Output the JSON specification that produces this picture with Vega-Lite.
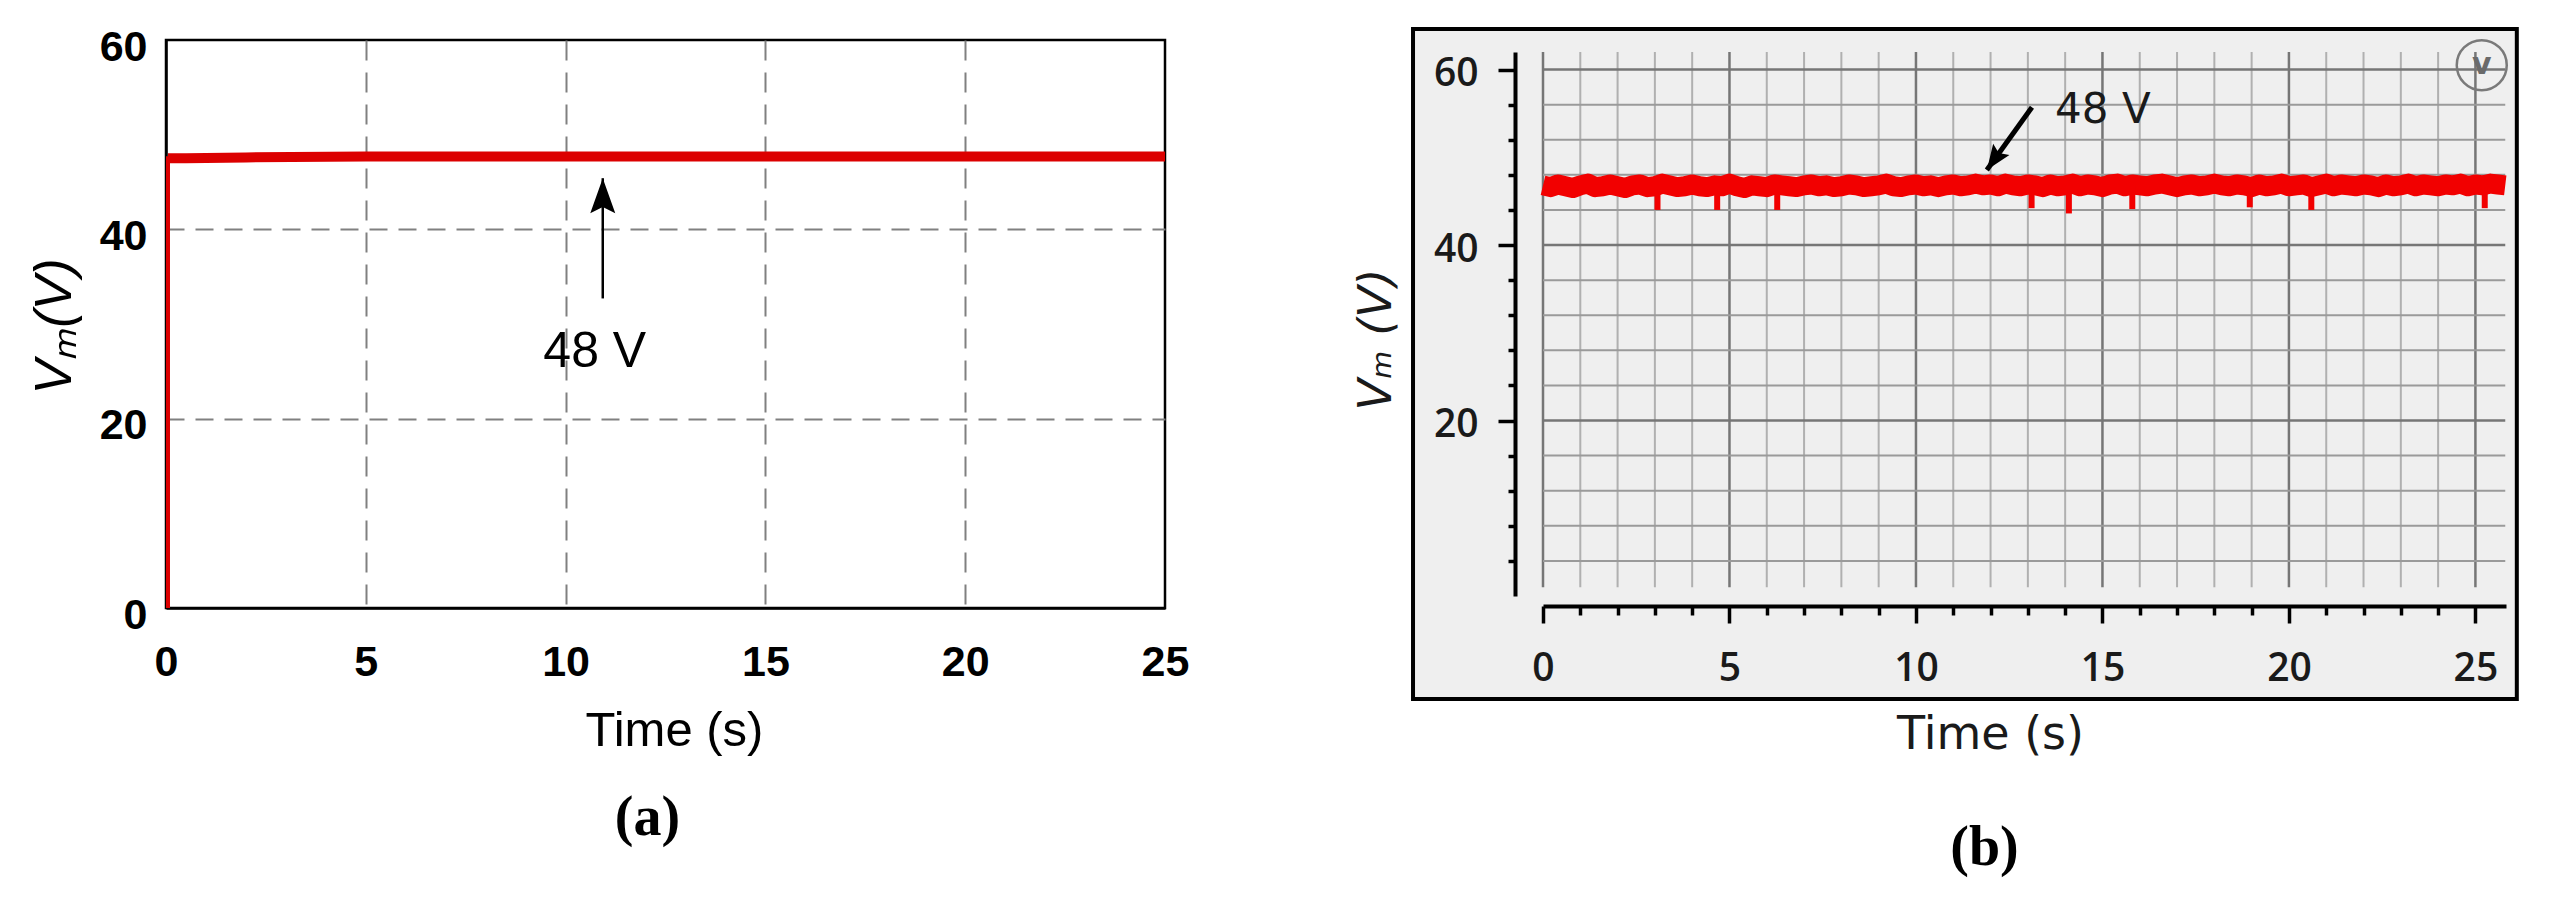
{
"$schema":"https://vega.github.io/schema/vega-lite/v6.json",
"autosize":{"type":"none"},
"padding":{"left":166,"top":40,"right":2385,"bottom":857},
"background":"white",
"spacing":378,
"bounds":"flush",
"center":true,
"config":{"view":{"stroke":null}},
"datasets":{
"sim":[{"t":0.05,"v":0},{"t":0.05,"v":47.5},{"t":0.5,"v":47.5},{"t":2,"v":47.6},{"t":5,"v":47.7},{"t":10,"v":47.7},{"t":15,"v":47.7},{"t":20,"v":47.7},{"t":25,"v":47.7}],
"arrow_a":[{"t0":10.93,"v0":32.7,"t1":10.93,"v1":45.4}],
"note_a":[{"t":10.73,"v":25.5,"label":"48 V"}],
"meas":[{"t":0,"v":46.8},{"t":0.2,"v":46.6},{"t":0.4,"v":46.9},{"t":0.6,"v":46.7},{"t":0.8,"v":46.5},{"t":1,"v":46.8},{"t":1.2,"v":47.0},{"t":1.4,"v":46.6},{"t":1.6,"v":46.7},{"t":1.8,"v":46.9},
{"t":2,"v":46.7},{"t":2.2,"v":46.5},{"t":2.4,"v":46.8},{"t":2.6,"v":46.9},{"t":2.8,"v":46.6},{"t":3,"v":46.7},{"t":3.2,"v":47.0},{"t":3.4,"v":46.8},{"t":3.6,"v":46.6},{"t":3.8,"v":46.7},
{"t":4,"v":46.9},{"t":4.2,"v":46.7},{"t":4.4,"v":46.6},{"t":4.6,"v":46.8},{"t":4.8,"v":46.7},{"t":5,"v":47.0},{"t":5.2,"v":46.7},{"t":5.4,"v":46.5},{"t":5.6,"v":46.8},{"t":5.8,"v":46.7},
{"t":6,"v":46.6},{"t":6.2,"v":46.9},{"t":6.4,"v":46.8},{"t":6.6,"v":46.7},{"t":6.8,"v":46.6},{"t":7,"v":46.8},{"t":7.2,"v":46.9},{"t":7.4,"v":46.7},{"t":7.6,"v":46.8},{"t":7.8,"v":46.6},
{"t":8,"v":46.7},{"t":8.2,"v":46.9},{"t":8.4,"v":46.8},{"t":8.6,"v":46.6},{"t":8.8,"v":46.7},{"t":9,"v":46.8},{"t":9.2,"v":47.0},{"t":9.4,"v":46.7},{"t":9.6,"v":46.6},{"t":9.8,"v":46.8},
{"t":10,"v":46.9},{"t":10.2,"v":46.7},{"t":10.4,"v":46.8},{"t":10.6,"v":46.6},{"t":10.8,"v":46.8},{"t":11,"v":46.9},{"t":11.2,"v":46.7},{"t":11.4,"v":46.8},{"t":11.6,"v":47.0},{"t":11.8,"v":46.8},
{"t":12,"v":46.9},{"t":12.2,"v":46.7},{"t":12.4,"v":47.0},{"t":12.6,"v":46.8},{"t":12.8,"v":46.7},{"t":13,"v":46.9},{"t":13.2,"v":46.8},{"t":13.4,"v":46.6},{"t":13.6,"v":46.9},{"t":13.8,"v":46.7},
{"t":14,"v":46.8},{"t":14.2,"v":47.0},{"t":14.4,"v":46.7},{"t":14.6,"v":46.9},{"t":14.8,"v":46.8},{"t":15,"v":46.6},{"t":15.2,"v":46.9},{"t":15.4,"v":47.0},{"t":15.6,"v":46.7},{"t":15.8,"v":46.9},
{"t":16,"v":46.8},{"t":16.2,"v":46.7},{"t":16.4,"v":46.9},{"t":16.6,"v":47.0},{"t":16.8,"v":46.8},{"t":17,"v":46.6},{"t":17.2,"v":46.8},{"t":17.4,"v":46.9},{"t":17.6,"v":46.7},{"t":17.8,"v":46.8},
{"t":18,"v":47.0},{"t":18.2,"v":46.8},{"t":18.4,"v":46.7},{"t":18.6,"v":46.9},{"t":18.8,"v":46.8},{"t":19,"v":46.6},{"t":19.2,"v":46.9},{"t":19.4,"v":46.7},{"t":19.6,"v":46.8},{"t":19.8,"v":47.0},
{"t":20,"v":46.7},{"t":20.2,"v":46.8},{"t":20.4,"v":46.9},{"t":20.6,"v":46.6},{"t":20.8,"v":46.8},{"t":21,"v":47.0},{"t":21.2,"v":46.7},{"t":21.4,"v":46.9},{"t":21.6,"v":46.8},{"t":21.8,"v":46.7},
{"t":22,"v":46.9},{"t":22.2,"v":46.8},{"t":22.4,"v":46.6},{"t":22.6,"v":46.9},{"t":22.8,"v":46.7},{"t":23,"v":46.8},{"t":23.2,"v":47.0},{"t":23.4,"v":46.7},{"t":23.6,"v":46.9},{"t":23.8,"v":46.8},
{"t":24,"v":46.7},{"t":24.2,"v":46.9},{"t":24.4,"v":46.8},{"t":24.6,"v":47.0},{"t":24.8,"v":46.7},{"t":25,"v":46.9},{"t":25.2,"v":46.8},{"t":25.4,"v":47.0},{"t":25.6,"v":46.9},{"t":25.8,"v":46.8}],
"spikes":[{"t":3.07,"hi":46.8,"lo":44.0},{"t":4.67,"hi":46.8,"lo":44.0},{"t":6.28,"hi":46.8,"lo":44.0},{"t":13.1,"hi":46.8,"lo":44.2},{"t":14.1,"hi":46.8,"lo":43.6},{"t":15.8,"hi":46.8,"lo":44.1},{"t":18.95,"hi":46.8,"lo":44.3},{"t":20.6,"hi":46.8,"lo":44.0},{"t":25.25,"hi":46.8,"lo":44.2}],
"grid_t":[{"t":0},{"t":1},{"t":2},{"t":3},{"t":4},{"t":5},{"t":6},{"t":7},{"t":8},{"t":9},{"t":10},{"t":11},{"t":12},{"t":13},{"t":14},{"t":15},{"t":16},{"t":17},{"t":18},{"t":19},{"t":20},{"t":21},{"t":22},{"t":23},{"t":24},{"t":25}],
"grid_v":[{"v":4},{"v":8},{"v":12},{"v":16},{"v":20},{"v":24},{"v":28},{"v":32},{"v":36},{"v":40},{"v":44},{"v":48},{"v":52},{"v":56},{"v":60}],
"arrow_b":[{"t0":13.11,"v0":55.7,"t1":11.9,"v1":48.55}],
"note_b":[{"t":13.73,"v":53.9,"label":"48 V"}],
"icon_b":[{"t":25.17,"v":60.5,"glyph":"v"}],
"frame_b":[{"t0":-3.485,"t1":26.11,"v0":64.62,"v1":-11.74}]
},
"hconcat":[
{
"width":999,"height":568,
"view":{"stroke":"black","strokeWidth":2.5},
"title":{"text":"(a)","orient":"bottom","anchor":"middle","frame":"group","font":"Liberation Serif","fontSize":56,"fontWeight":"bold","color":"black","baseline":"alphabetic","offset":80,"dx":-18},
"layer":[
{"data":{"name":"sim"},
 "mark":{"type":"line","color":"#dc0000","strokeWidth":4},
 "encoding":{
  "x":{"field":"t","type":"quantitative","scale":{"domain":[0,25],"nice":false,"zero":false},
   "axis":{"values":[0,5,10,15,20,25],"grid":true,"gridDash":[20,12],"gridColor":"#808080","gridWidth":2,
    "gridOpacity":{"condition":{"test":"datum.value === 0 || datum.value === 25","value":0},"value":1},
    "domainColor":"black","domainWidth":2.5,"ticks":false,"tickSize":0,
    "labelFont":"Liberation Sans","labelFontSize":43,"labelFontWeight":"bold","labelColor":"black","labelBaseline":"alphabetic","labelPadding":67,"labelFlush":false,"labelOverlap":false,
    "title":"Time (s)","titleFont":"Liberation Sans","titleFontSize":49,"titleFontWeight":"normal","titleColor":"black","titleX":508,"titleY":137,"titleBaseline":"alphabetic","titleAlign":"center"}},
  "y":{"field":"v","type":"quantitative","scale":{"domain":[0,60],"nice":false,"zero":false},
   "axis":{"values":[0,20,40,60],"grid":true,"gridDash":[18,11],"gridColor":"#808080","gridWidth":2,
    "gridOpacity":{"condition":{"test":"datum.value === 0 || datum.value === 60","value":0},"value":1},
    "domainColor":"black","domainWidth":2.5,"ticks":false,"tickSize":0,
    "labelFont":"Liberation Sans","labelFontSize":43,"labelFontWeight":"bold","labelColor":"black","labelBaseline":"alphabetic","labelOffset":20,"labelPadding":19,"labelOverlap":false,"labelFlush":false,
    "title":"Vₘ(V)","titleFont":"Liberation Sans","titleFontSize":52,"titleFontStyle":"italic","titleFontWeight":"normal","titleColor":"black","titleAngle":-90,"titleX":-96,"titleY":286,"titleBaseline":"alphabetic","titleAlign":"center"}}
 }},
{"data":{"name":"sim"},
 "transform":[{"filter":"datum.v > 1"}],
 "mark":{"type":"line","color":"#dc0000","strokeWidth":10},
 "encoding":{
  "x":{"field":"t","type":"quantitative","scale":{"domain":[0,25],"nice":false,"zero":false}},
  "y":{"field":"v","type":"quantitative","scale":{"domain":[0,60],"nice":false,"zero":false}}}},
{"data":{"name":"arrow_a"},
 "mark":{"type":"rule","color":"black","strokeWidth":2.5},
 "encoding":{
  "x":{"field":"t0","type":"quantitative","scale":{"domain":[0,25],"nice":false,"zero":false}},
  "y":{"field":"v0","type":"quantitative","scale":{"domain":[0,60],"nice":false,"zero":false}},
  "x2":{"field":"t1"},"y2":{"field":"v1"}}},
{"data":{"name":"arrow_a"},
 "mark":{"type":"point","shape":"M0,0 L0.5,1.4 L0,1.15 L-0.5,1.4 Z","filled":true,"color":"black","opacity":1,"size":2500,"strokeWidth":0},
 "encoding":{
  "x":{"field":"t1","type":"quantitative","scale":{"domain":[0,25],"nice":false,"zero":false}},
  "y":{"field":"v1","type":"quantitative","scale":{"domain":[0,60],"nice":false,"zero":false}}}},
{"data":{"name":"note_a"},
 "mark":{"type":"text","font":"Liberation Sans","fontSize":50,"color":"black","align":"center","baseline":"alphabetic"},
 "encoding":{
  "x":{"field":"t","type":"quantitative","scale":{"domain":[0,25],"nice":false,"zero":false}},
  "y":{"field":"v","type":"quantitative","scale":{"domain":[0,60],"nice":false,"zero":false}},
  "text":{"field":"label"}}}
]
},
{
"width":963,"height":544,
"view":{"stroke":null},
"title":{"text":"(b)","orient":"bottom","anchor":"middle","frame":"group","font":"Liberation Serif","fontSize":56,"fontWeight":"bold","color":"black","baseline":"alphabetic","offset":108,"dx":-40},
"resolve":{"axis":{"x":"independent","y":"independent"}},
"layer":[
{"data":{"name":"frame_b"},
 "mark":{"type":"rect","fill":"#efefef","stroke":"black","strokeWidth":4},
 "encoding":{
  "x":{"field":"t0","type":"quantitative","scale":{"domain":[0,25.82],"nice":false,"zero":false},"axis":null},
  "x2":{"field":"t1"},
  "y":{"field":"v0","type":"quantitative","scale":{"domain":[0,62],"nice":false,"zero":false},"axis":null},
  "y2":{"field":"v1"}}},
{"data":{"name":"grid_t"},
 "mark":{"type":"rule"},
 "encoding":{
  "x":{"field":"t","type":"quantitative","scale":{"domain":[0,25.82],"nice":false,"zero":false},
   "axis":{"orient":"bottom","offset":10,"values":[1,2,3,4,6,7,8,9,11,12,13,14,16,17,18,19,21,22,23,24],"domain":false,"labels":false,"grid":false,"ticks":true,"tickSize":9,"tickWidth":3.5,"tickColor":"black","title":null,"zindex":1}},
  "y":{"datum":1,"type":"quantitative","scale":{"domain":[0,62],"nice":false,"zero":false},"axis":null},
  "y2":{"datum":62},
  "color":{"condition":{"test":"datum.t % 5 === 0","value":"#767676"},"value":"#b0b0b0"},
  "strokeWidth":{"condition":{"test":"datum.t % 5 === 0","value":2.5},"value":2}}},
{"data":{"name":"grid_v"},
 "mark":{"type":"rule"},
 "encoding":{
  "x":{"datum":0,"type":"quantitative","scale":{"domain":[0,25.82],"nice":false,"zero":false},"axis":null},
  "x2":{"datum":25.8},
  "y":{"field":"v","type":"quantitative","scale":{"domain":[0,62],"nice":false,"zero":false},
   "axis":{"orient":"left","offset":28,"values":[4,8,12,16,24,28,32,36,44,48,52,56],"domain":false,"labels":false,"grid":false,"ticks":true,"tickSize":7,"tickWidth":3.5,"tickColor":"black","title":null,"zindex":1}},
  "color":{"condition":{"test":"datum.v % 20 === 0","value":"#767676"},"value":"#9a9a9a"},
  "strokeWidth":{"condition":{"test":"datum.v % 20 === 0","value":2.5},"value":2}}},
{"data":{"name":"meas"},
 "mark":{"type":"line","color":"#f20000","strokeWidth":20,"strokeJoin":"round"},
 "encoding":{
  "x":{"field":"t","type":"quantitative","scale":{"domain":[0,25.82],"nice":false,"zero":false},
   "axis":{"values":[0,5,10,15,20,25],"orient":"bottom","offset":10,"grid":false,"zindex":1,
    "domainColor":"black","domainWidth":4,"tickColor":"black","tickWidth":3.5,"tickSize":17,
    "labelFont":"Open Sans","labelFontSize":39,"labelFontWeight":600,"labelColor":"#1a1a1a","labelBaseline":"alphabetic","labelPadding":57,"labelFlush":false,"labelOverlap":false,
    "title":"Time (s)","titleFont":"DejaVu Sans","titleFontSize":46,"titleFontWeight":"normal","titleColor":"#1a1a1a","titleX":447,"titleY":142,"titleBaseline":"alphabetic","titleAlign":"center"}},
  "y":{"field":"v","type":"quantitative","scale":{"domain":[0,62],"nice":false,"zero":false},
   "axis":{"values":[20,40,60],"orient":"left","offset":28,"grid":false,"zindex":1,
    "domainColor":"black","domainWidth":4,"tickColor":"black","tickWidth":3.5,"tickSize":17,
    "labelFont":"Open Sans","labelFontSize":39,"labelFontWeight":600,"labelColor":"#1a1a1a","labelBaseline":"alphabetic","labelOffset":16,"labelPadding":20,"labelOverlap":false,"labelFlush":false,
    "title":"Vₘ (V)","titleFont":"DejaVu Sans","titleFontSize":46,"titleFontStyle":"italic","titleFontWeight":"normal","titleColor":"#1a1a1a","titleAngle":-90,"titleX":-125,"titleY":287,"titleBaseline":"alphabetic","titleAlign":"center"}}
 }},
{"data":{"name":"spikes"},
 "mark":{"type":"rule","color":"#f20000","strokeWidth":6},
 "encoding":{
  "x":{"field":"t","type":"quantitative","scale":{"domain":[0,25.82],"nice":false,"zero":false},"axis":null},
  "y":{"field":"hi","type":"quantitative","scale":{"domain":[0,62],"nice":false,"zero":false},"axis":null},
  "y2":{"field":"lo"}}},
{"data":{"name":"arrow_b"},
 "mark":{"type":"rule","color":"black","strokeWidth":5},
 "encoding":{
  "x":{"field":"t0","type":"quantitative","scale":{"domain":[0,25.82],"nice":false,"zero":false},"axis":null},
  "y":{"field":"v0","type":"quantitative","scale":{"domain":[0,62],"nice":false,"zero":false},"axis":null},
  "x2":{"field":"t1"},"y2":{"field":"v1"}}},
{"data":{"name":"arrow_b"},
 "mark":{"type":"point","shape":"M0,0 L0.55,1.4 L0,1.15 L-0.55,1.4 Z","filled":true,"color":"black","opacity":1,"size":1300,"strokeWidth":0,"angle":215},
 "encoding":{
  "x":{"field":"t1","type":"quantitative","scale":{"domain":[0,25.82],"nice":false,"zero":false},"axis":null},
  "y":{"field":"v1","type":"quantitative","scale":{"domain":[0,62],"nice":false,"zero":false},"axis":null}}},
{"data":{"name":"note_b"},
 "mark":{"type":"text","font":"DejaVu Sans","fontSize":42,"color":"#1a1a1a","align":"left","baseline":"alphabetic"},
 "encoding":{
  "x":{"field":"t","type":"quantitative","scale":{"domain":[0,25.82],"nice":false,"zero":false},"axis":null},
  "y":{"field":"v","type":"quantitative","scale":{"domain":[0,62],"nice":false,"zero":false},"axis":null},
  "text":{"field":"label"}}},
{"data":{"name":"icon_b"},
 "mark":{"type":"point","shape":"circle","filled":false,"color":"#7a7a7a","strokeWidth":2.5,"size":2500,"opacity":1},
 "encoding":{
  "x":{"field":"t","type":"quantitative","scale":{"domain":[0,25.82],"nice":false,"zero":false},"axis":null},
  "y":{"field":"v","type":"quantitative","scale":{"domain":[0,62],"nice":false,"zero":false},"axis":null}}},
{"data":{"name":"icon_b"},
 "mark":{"type":"text","font":"DejaVu Sans","fontSize":30,"fontWeight":"bold","color":"#6a6a6a","align":"center","baseline":"middle"},
 "encoding":{
  "x":{"field":"t","type":"quantitative","scale":{"domain":[0,25.82],"nice":false,"zero":false},"axis":null},
  "y":{"field":"v","type":"quantitative","scale":{"domain":[0,62],"nice":false,"zero":false},"axis":null},
  "text":{"field":"glyph"}}}
]
}
]
}
